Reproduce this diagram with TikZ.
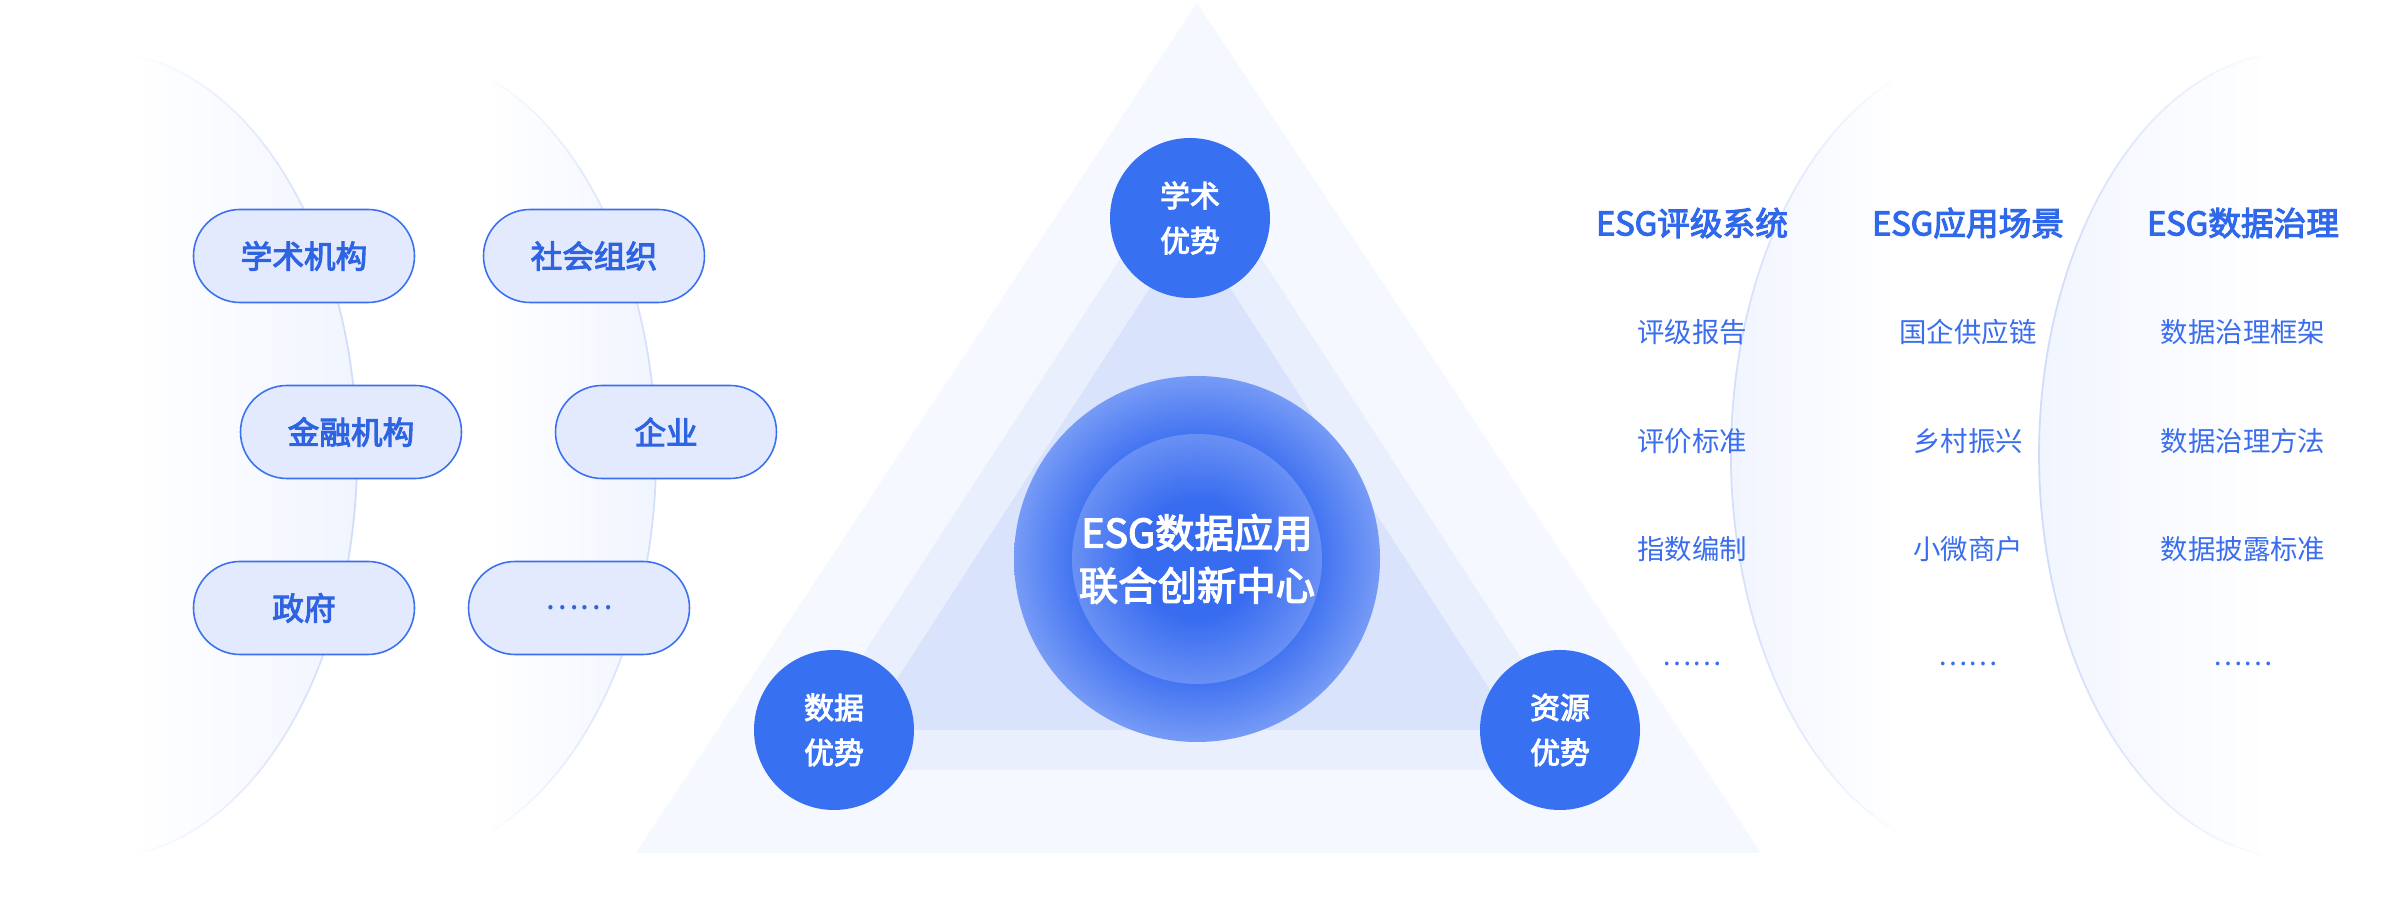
\documentclass[tikz,border=0pt]{standalone}
\usepackage{fontspec}
\setmainfont{Noto Sans CJK SC}
\newfontfamily\midweight[FakeBold=3.2]{Noto Sans CJK SC}
\usepackage{tikz}
\usetikzlibrary{fadings}
\definecolor{hubblue}{HTML}{3870F2}
\definecolor{pillfill}{HTML}{E3EAFD}
\definecolor{pillline}{HTML}{3B70EE}
\definecolor{pilltext}{HTML}{2E64E2}
\definecolor{headtext}{HTML}{2F68EA}
\definecolor{itemtext}{HTML}{3A6EEE}
\definecolor{triouter}{HTML}{F5F8FE}
\definecolor{trimid}{HTML}{E9EFFD}
\definecolor{triinner}{HTML}{D9E3FB}
\definecolor{ringfill}{HTML}{F1F5FE}
\definecolor{ringline}{HTML}{CCDAFA}
\definecolor{hubdeep}{HTML}{386CF0}
\definecolor{hubmid}{HTML}{4374F1}
\definecolor{hubedge}{HTML}{769BF6}
\definecolor{corelight}{HTML}{6990F4}
\pgfdeclareradialshading{hubring}{\pgfpoint{0bp}{0bp}}{color(0bp)=(hubdeep); color(17bp)=(hubmid); color(25bp)=(hubedge); color(50bp)=(hubedge)}
\pgfdeclareradialshading{hubcore}{\pgfpoint{0bp}{0bp}}{color(0bp)=(hubdeep); color(12bp)=(hubdeep); color(25bp)=(corelight); color(50bp)=(corelight)}
\tikzfading[name=ringfadeleft, left color=transparent!100, right color=transparent!0]
\tikzfading[name=ringfaderight, left color=transparent!0, right color=transparent!100]

\begin{document}
\begin{tikzpicture}[
    every node/.style={font=\fontsize{9}{11}\selectfont},
    pill/.style={draw=pillline, line width=0.45pt, fill=pillfill, rounded corners=0.465cm,
        minimum width=2.21cm, minimum height=0.93cm, text=pilltext,
        font=\fontsize{9}{11}\selectfont\midweight},
    advantage/.style={circle, fill=hubblue, minimum size=1.6cm, inner sep=0pt, text=white,
        align=center, font=\fontsize{8.5}{12.8}\selectfont\midweight},
    hubtext/.style={text=white, align=center, font=\fontsize{11.2}{15}\selectfont\midweight},
    listhead/.style={text=headtext, font=\fontsize{9.3}{11}\selectfont\midweight},
    listitem/.style={text=itemtext, font=\fontsize{7.8}{10}\selectfont}
]
    \useasboundingbox (0,0) rectangle (23.98,8.98);
    \fill[white] (0,0) rectangle (23.98,8.98);

    % Soft rings behind the partner list (left)
    \foreach \cx/\cut in {1.00/1.34, 3.99/4.85} {
        \begin{scope}
            \clip (\cx,4.43) ellipse (2.57 and 4.03);
            \shade[left color=white, right color=ringfill] (\cut,0) rectangle ({\cx+2.57},8.98);
        \end{scope}
        \pgfmathsetmacro{\ang}{acos((\cut-\cx)/2.57)}
        \draw[ringline, line width=0.5pt, path fading=ringfadeleft]
            (\cut,{4.43+4.03*sin(\ang)}) arc[start angle=\ang, end angle=-\ang, x radius=2.57, y radius=4.03];
    }

    % Soft rings behind the application lists (right)
    \foreach \cx/\cut in {19.88/18.99, 22.96/22.70} {
        \begin{scope}
            \clip (\cx,4.43) ellipse (2.57 and 4.03);
            \shade[left color=ringfill, right color=white] ({\cx-2.57},0) rectangle (\cut,8.98);
        \end{scope}
        \pgfmathsetmacro{\ang}{acos((\cut-\cx)/2.57)}
        \draw[ringline, line width=0.5pt, path fading=ringfaderight]
            (\cut,{4.43+4.03*sin(\ang)}) arc[start angle=\ang, end angle={360-\ang}, x radius=2.57, y radius=4.03];
    }

    % Nested triangles
    \fill[triouter] (6.36,0.45) -- (17.61,0.45) -- (11.97,8.95) -- cycle;
    \fill[trimid] (7.88,1.28) -- (15.94,1.28) -- (11.91,7.48) -- cycle;
    \fill[triinner] (8.64,1.68) -- (15.16,1.68) -- (11.90,6.72) -- cycle;

    % Central hub
    \shade[shading=hubring] (11.97,3.39) circle (1.83);
    \shade[shading=hubcore] (11.97,3.39) circle (1.25);
    \node[hubtext] (hub) at (11.97,3.39) {ESG数据应用\\联合创新中心};

    % Three advantages on the corners
    \node[advantage] (advAcademic) at (11.90,6.80) {学术\\优势};
    \node[advantage] (advData) at (8.34,1.68) {数据\\优势};
    \node[advantage] (advResource) at (15.60,1.68) {资源\\优势};

    % Partners
    \node[pill] (orgAcademic) at (3.04,6.42) {学术机构};
    \node[pill] (orgSocial) at (5.94,6.42) {社会组织};
    \node[pill] (orgFinance) at (3.51,4.66) {金融机构};
    \node[pill] (orgCompany) at (6.66,4.66) {企业};
    \node[pill] (orgGov) at (3.04,2.90) {政府};
    \node[pill, font=\fontsize{9}{11}\selectfont] (orgMore) at (5.79,2.90) {……};

    % Application columns
    \foreach \colx/\head/\one/\two/\three [count=\i] in {
        16.92/ESG评级系统/评级报告/评价标准/指数编制,
        19.68/ESG应用场景/国企供应链/乡村振兴/小微商户,
        22.43/ESG数据治理/数据治理框架/数据治理方法/数据披露标准} {
        \node[listhead] (head\i) at (\colx,6.75) {\head};
        \node[listitem] (item\i a) at (\colx,5.66) {\one};
        \node[listitem] (item\i b) at (\colx,4.57) {\two};
        \node[listitem] (item\i c) at (\colx,3.49) {\three};
        \node[listitem] (item\i d) at (\colx,2.34) {……};
    }
\end{tikzpicture}
\end{document}
